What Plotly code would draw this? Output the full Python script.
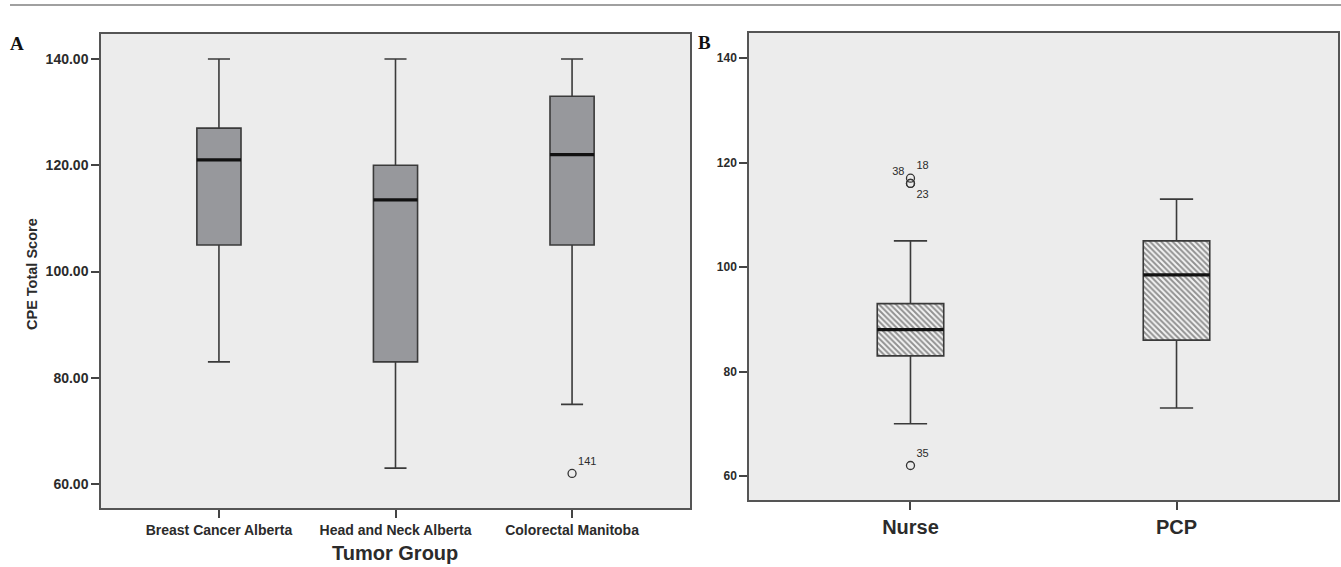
import plotly.graph_objects as go

W, H = 1341, 567

# ---------------- Panel A data ----------------
groups_a = ["Breast Cancer Alberta", "Head and Neck Alberta", "Colorectal Manitoba"]
a_lower = [83, 63, 75]
a_q1 = [105, 83, 105]
a_median = [121, 113.5, 122]
a_q3 = [127, 120, 133]
a_upper = [140, 140, 140]
a_out_group = [2]
a_out_value = [62]
a_out_label = ["141"]

# ---------------- Panel B data ----------------
groups_b = ["Nurse", "PCP"]
b_lower = [70, 73]
b_q1 = [83, 86]
b_median = [88, 98.5]
b_q3 = [93, 105]
b_upper = [105, 113]
b_out_group = [0, 0, 0, 0]
b_out_value = [117, 116, 116, 62]
b_out_label = ["18", "38", "23", "35"]
b_out_textpos = ["top right", "top left", "bottom right", "top right"]

ticks_a = [60, 80, 100, 120, 140]
ticks_b = [60, 80, 100, 120, 140]

BOXW = 0.25
LINE = "#3a3a3a"
TXT = "#2b2b2b"
FONT = "Liberation Sans, Arial, sans-serif"


def median_segments(meds):
    xs, ys = [], []
    for i, m in enumerate(meds):
        xs += [i - BOXW / 2, i + BOXW / 2, None]
        ys += [m, m, None]
    return xs, ys


fig = go.Figure()

# Panel A boxes
fig.add_trace(go.Box(
    x=list(range(len(groups_a))), q1=a_q1, median=a_median, q3=a_q3,
    lowerfence=a_lower, upperfence=a_upper, width=BOXW, whiskerwidth=0.5,
    fillcolor="#97989c", line=dict(color=LINE, width=1.6), boxpoints=False,
    showlegend=False, hoverinfo="skip", xaxis="x", yaxis="y"))
mx, my = median_segments(a_median)
fig.add_trace(go.Scatter(x=mx, y=my, mode="lines", line=dict(color="#111111", width=3.2),
                         showlegend=False, hoverinfo="skip", xaxis="x", yaxis="y"))
fig.add_trace(go.Scatter(
    x=a_out_group, y=a_out_value, mode="markers+text", text=a_out_label,
    textposition="top right",
    textfont=dict(family=FONT, size=11, color=TXT),
    marker=dict(symbol="circle-open", size=8, color="#333333", line=dict(width=1.3)),
    showlegend=False, hoverinfo="skip", xaxis="x", yaxis="y"))

# Panel B hatched boxes (bars as hatched body) + box outline/whiskers
fig.add_trace(go.Bar(
    x=list(range(len(groups_b))), y=[q3 - q1 for q1, q3 in zip(b_q1, b_q3)], base=b_q1,
    width=BOXW,
    marker=dict(color="#f4f4f4", line=dict(width=0),
                pattern=dict(shape="\\", fgcolor="#2e2e2e", bgcolor="#f4f4f4",
                             size=4, solidity=0.5)),
    showlegend=False, hoverinfo="skip", xaxis="x2", yaxis="y2"))
fig.add_trace(go.Box(
    x=list(range(len(groups_b))), q1=b_q1, median=b_median, q3=b_q3,
    lowerfence=b_lower, upperfence=b_upper, width=BOXW, whiskerwidth=0.5,
    fillcolor="rgba(0,0,0,0)", line=dict(color=LINE, width=1.6), boxpoints=False,
    showlegend=False, hoverinfo="skip", xaxis="x2", yaxis="y2"))
mx, my = median_segments(b_median)
fig.add_trace(go.Scatter(x=mx, y=my, mode="lines", line=dict(color="#111111", width=3.2),
                         showlegend=False, hoverinfo="skip", xaxis="x2", yaxis="y2"))
fig.add_trace(go.Scatter(
    x=b_out_group, y=b_out_value, mode="markers+text", text=b_out_label,
    textposition=b_out_textpos,
    textfont=dict(family=FONT, size=11, color=TXT),
    marker=dict(symbol="circle-open", size=8, color="#333333", line=dict(width=1.3)),
    showlegend=False, hoverinfo="skip", xaxis="x2", yaxis="y2"))

axis_common = dict(showline=True, mirror=True, linecolor="#555555", linewidth=1.5,
                   showgrid=False, zeroline=False, ticks="outside", ticklen=8,
                   tickwidth=1.5, tickcolor="#444444")

fig.update_layout(
    width=W, height=H,
    margin=dict(l=0, r=0, t=0, b=0),
    paper_bgcolor="white", plot_bgcolor="#ececec",
    barmode="overlay",
    xaxis=dict(domain=[101 / W, 690 / W], range=[-0.668, 2.668], anchor="y",
               tickvals=list(range(len(groups_a))), ticktext=groups_a,
               tickfont=dict(family=FONT, size=14, color=TXT, weight="bold"),
               **axis_common),
    yaxis=dict(domain=[1 - 508 / H, 1 - 33.5 / H], range=[55.5, 144.8], anchor="x",
               tickvals=ticks_a, tickformat=".2f",
               tickfont=dict(family=FONT, size=14, color=TXT, weight="bold"),
               **axis_common),
    xaxis2=dict(domain=[749 / W, 1338 / W], range=[-0.607, 1.607], anchor="y2",
                tickvals=list(range(len(groups_b))), ticktext=groups_b,
                tickfont=dict(family=FONT, size=20, color=TXT, weight="bold"),
                **axis_common),
    yaxis2=dict(domain=[1 - 500 / H, 1 - 33 / H], range=[55.4, 144.8], anchor="x2",
                tickvals=ticks_b,
                tickfont=dict(family=FONT, size=12, color=TXT, weight="bold"),
                **axis_common),
    shapes=[dict(type="line", xref="paper", yref="paper", x0=10 / W, x1=1,
                 y0=1 - 5 / H, y1=1 - 5 / H, line=dict(color="#a0a0a0", width=2))],
    annotations=[
        dict(text="A", x=17 / W, y=1 - 43 / H, xref="paper", yref="paper",
             showarrow=False, xanchor="center", yanchor="middle",
             font=dict(family="Liberation Serif, serif", size=19, color="#111", weight="bold")),
        dict(text="B", x=704 / W, y=1 - 42 / H, xref="paper", yref="paper",
             showarrow=False, xanchor="center", yanchor="middle",
             font=dict(family="Liberation Serif, serif", size=19, color="#111", weight="bold")),
        dict(text="CPE Total Score", x=32 / W, y=1 - 274 / H, xref="paper", yref="paper",
             showarrow=False, textangle=-90, xanchor="center", yanchor="middle",
             font=dict(family=FONT, size=14.5, color=TXT, weight="bold")),
        dict(text="Tumor Group", x=395 / W, y=1 - 553 / H, xref="paper", yref="paper",
             showarrow=False, xanchor="center", yanchor="middle",
             font=dict(family=FONT, size=20, color=TXT, weight="bold")),
    ],
)

fig.write_html("out.html",
               config={"displayModeBar": False},
               post_script="document.body.style.margin='0px';document.body.style.padding='0px';")
